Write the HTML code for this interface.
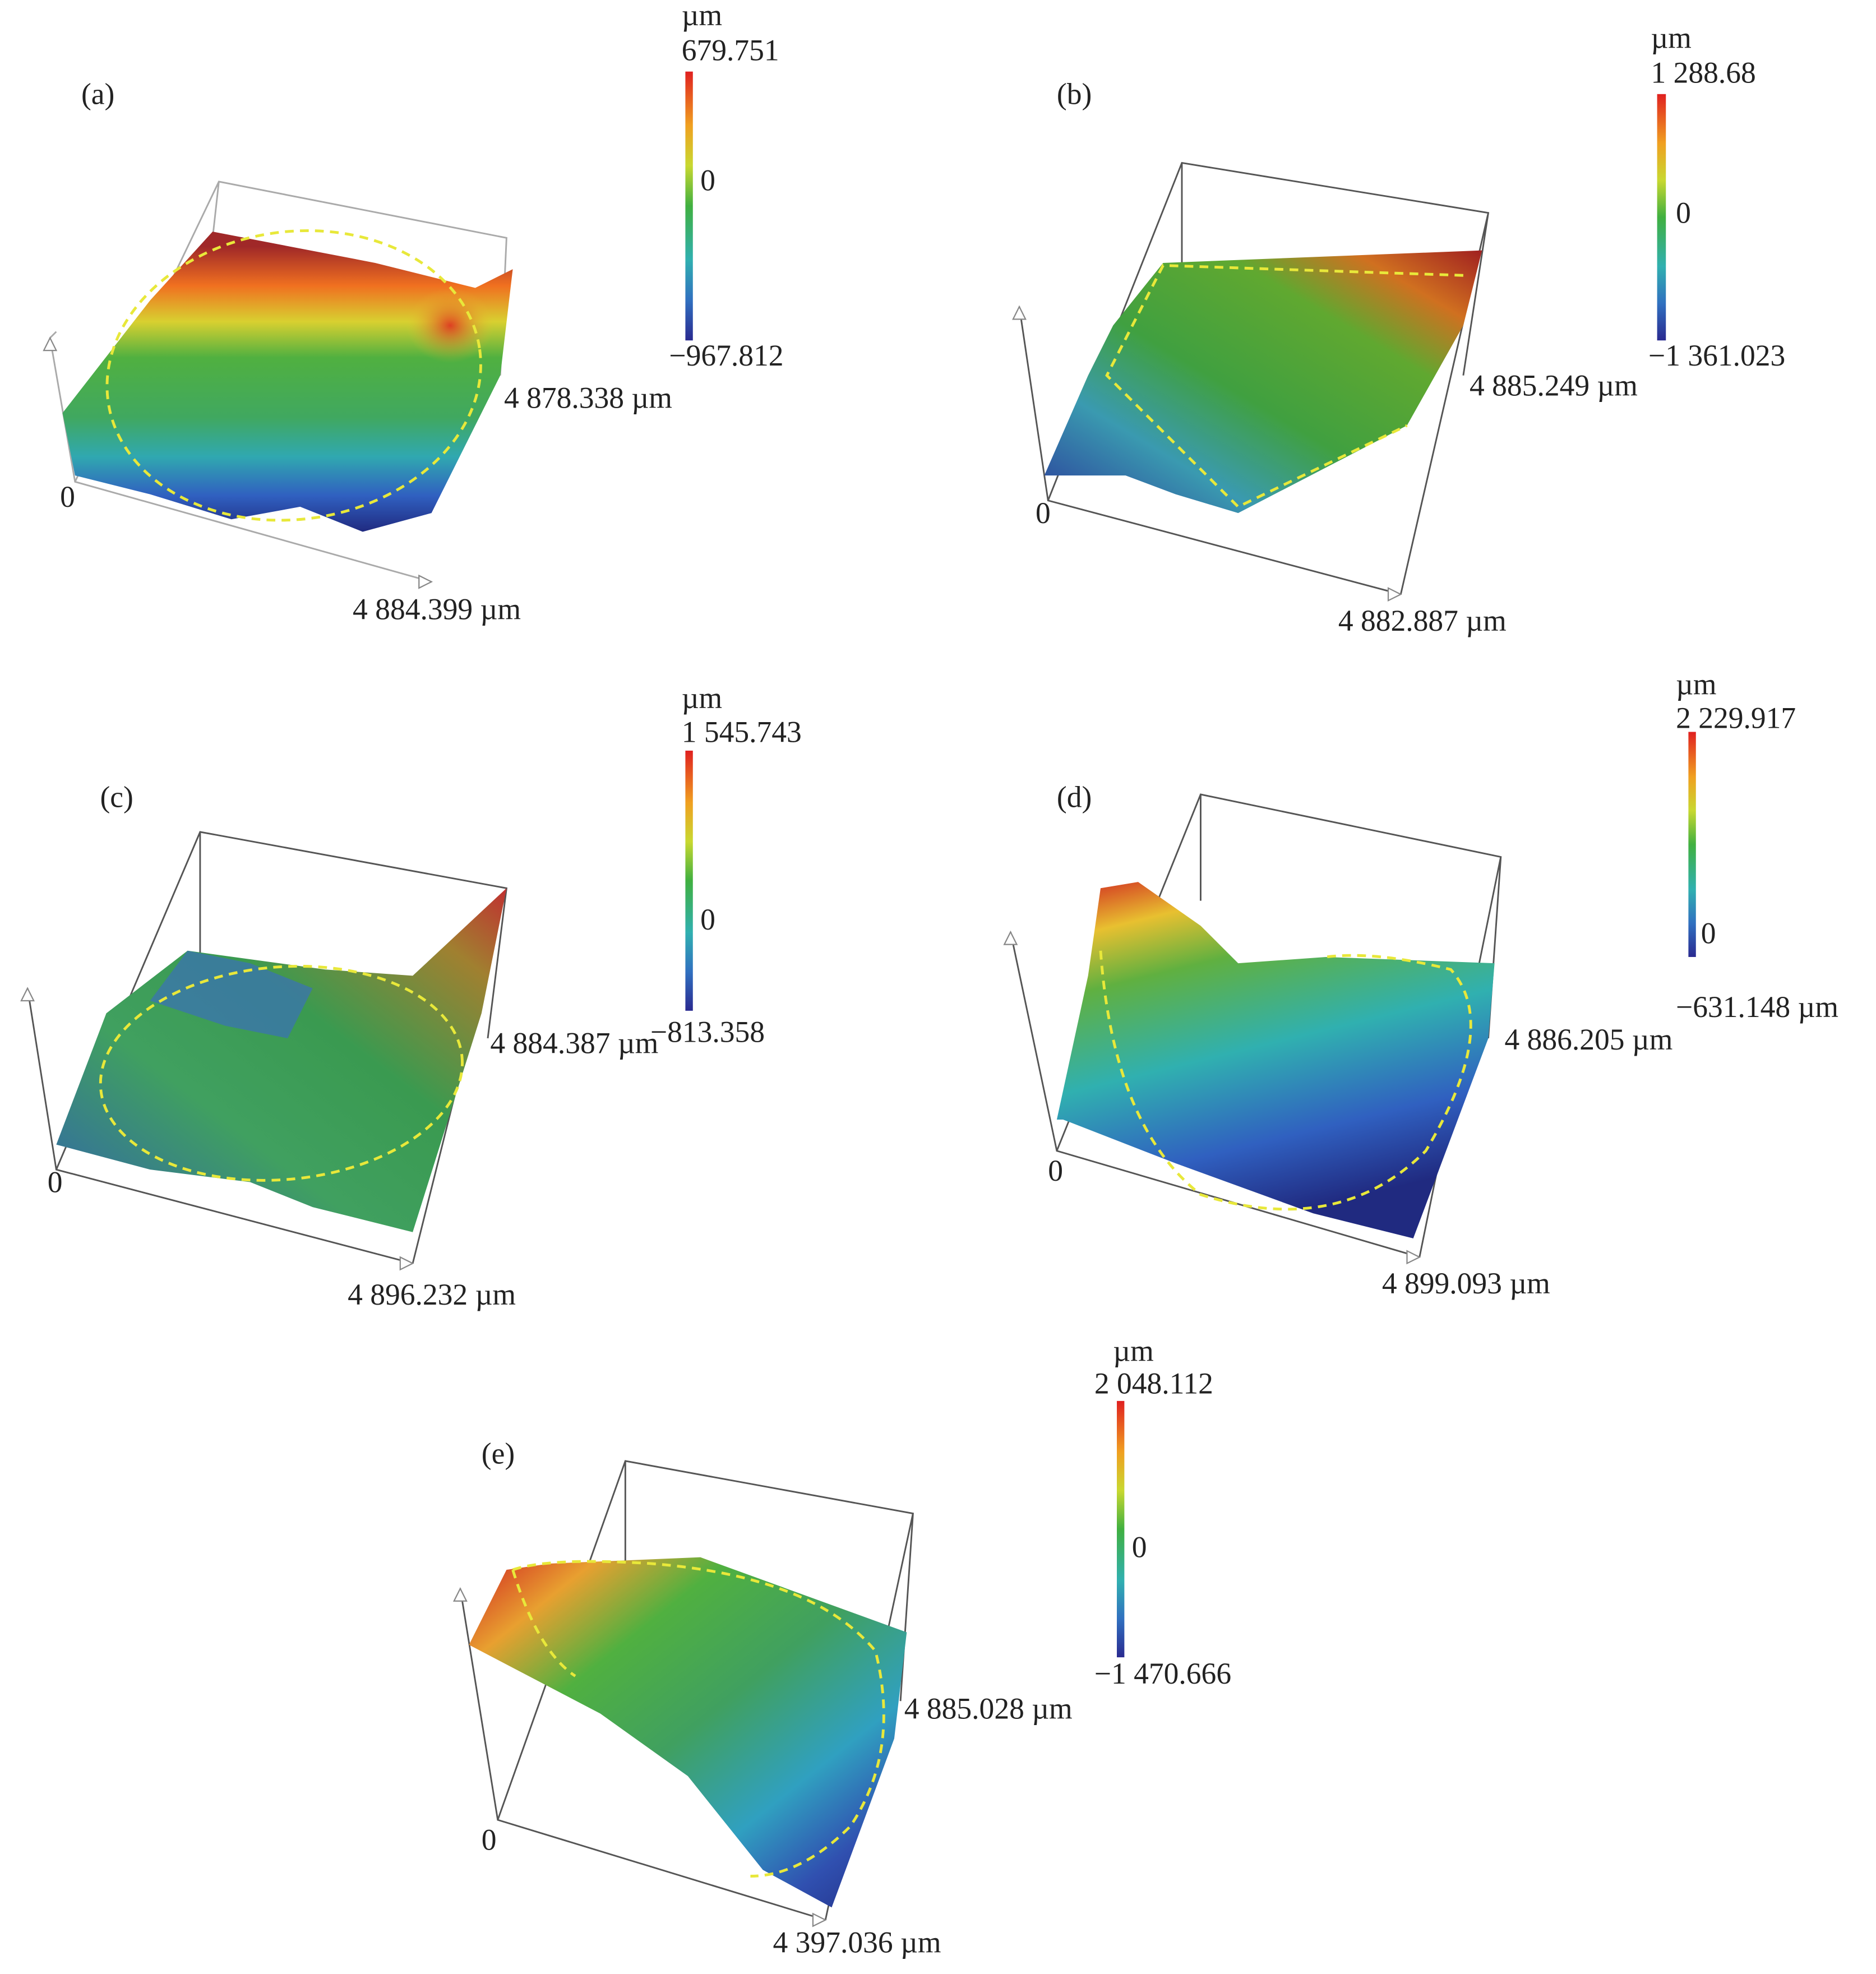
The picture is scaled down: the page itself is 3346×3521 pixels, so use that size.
<!DOCTYPE html>
<html><head><meta charset="utf-8"><style>
html,body{margin:0;padding:0;background:#fff}
svg{display:block}
text{font-family:"Liberation Serif",serif;font-size:24px;fill:#222}
.bx{stroke:#555;stroke-width:1.3;fill:none}
.dash{stroke:#e8e83a;stroke-width:2.2;fill:none;stroke-dasharray:7 5}
</style></head><body>
<svg width="3346" height="3521" viewBox="0 0 1500 1578" xmlns="http://www.w3.org/2000/svg">
<defs>
<linearGradient id="cb" x1="0" y1="0" x2="0" y2="1">
<stop offset="0" stop-color="#e02020"/><stop offset="0.2" stop-color="#f0a020"/><stop offset="0.35" stop-color="#c8d830"/><stop offset="0.5" stop-color="#40b040"/><stop offset="0.7" stop-color="#30b0b0"/><stop offset="0.85" stop-color="#3070c0"/><stop offset="1" stop-color="#2a2a90"/></linearGradient>
<linearGradient id="ga" x1="0" y1="0" x2="0" y2="1">
<stop offset="0.05" stop-color="#a02828"/><stop offset="0.18" stop-color="#f07020"/><stop offset="0.3" stop-color="#d8d030"/><stop offset="0.42" stop-color="#50b040"/><stop offset="0.62" stop-color="#40a860"/><stop offset="0.75" stop-color="#30a8b0"/><stop offset="0.88" stop-color="#3060c0"/><stop offset="1" stop-color="#202a80"/></linearGradient>
<linearGradient id="gb" x1="0" y1="1" x2="1" y2="0">
<stop offset="0" stop-color="#2a3a9a"/><stop offset="0.25" stop-color="#3a9ab0"/><stop offset="0.45" stop-color="#40a040"/><stop offset="0.7" stop-color="#60a830"/><stop offset="0.85" stop-color="#d07020"/><stop offset="1" stop-color="#a02020"/></linearGradient>
<linearGradient id="gc" x1="0" y1="1" x2="1" y2="0">
<stop offset="0" stop-color="#3060b0"/><stop offset="0.35" stop-color="#40a060"/><stop offset="0.6" stop-color="#3a9a50"/><stop offset="0.85" stop-color="#a08030"/><stop offset="1" stop-color="#c03030"/></linearGradient>
<linearGradient id="gd" x1="0" y1="0" x2="0.3" y2="1">
<stop offset="0" stop-color="#d02020"/><stop offset="0.15" stop-color="#e8c030"/><stop offset="0.3" stop-color="#60b040"/><stop offset="0.55" stop-color="#30b0b0"/><stop offset="0.8" stop-color="#3060c0"/><stop offset="1" stop-color="#202a80"/></linearGradient>
<linearGradient id="ge" x1="0" y1="0" x2="1" y2="1">
<stop offset="0" stop-color="#d02020"/><stop offset="0.15" stop-color="#e8a030"/><stop offset="0.3" stop-color="#50b040"/><stop offset="0.5" stop-color="#40a060"/><stop offset="0.7" stop-color="#30a0c0"/><stop offset="0.85" stop-color="#3050b0"/><stop offset="1" stop-color="#202a80"/></linearGradient>
<radialGradient id="redR" cx="0.5" cy="0.5" r="0.5"><stop offset="0" stop-color="#e03020" stop-opacity="0.9"/><stop offset="1" stop-color="#e8c030" stop-opacity="0"/></radialGradient>
</defs>

<!-- (a) -->
<text x="65" y="83">(a)</text>
<g class="bx" style="stroke:#aaa"><path d="M40 270 L60 385 L345 465 M60 385 L175 145 L405 190 L400 300 M175 145 L170 190 M40 270 L45 265"/></g>
<polygon fill="url(#ga)" points="50,330 120,240 170,185 300,210 380,230 410,215 400,300 345,410 290,425 240,405 185,415 120,395 60,380"/>
<ellipse cx="360" cy="260" rx="35" ry="30" fill="url(#redR)"/>
<ellipse class="dash" cx="235" cy="300" rx="150" ry="115" transform="rotate(-8 235 300)"/>
<path d="M40 270 l-5 10 l10 0 z M345 465 l-10 -5 l0 10z" fill="#fff" stroke="#888"/>
<rect x="548" y="57" width="6" height="215" fill="url(#cb)"/>
<text x="545" y="20">µm</text><text x="545" y="48">679.751</text><text x="560" y="152">0</text><text x="535" y="292">−967.812</text>
<text x="403" y="326">4 878.338 µm</text><text x="282" y="495">4 884.399 µm</text><text x="48" y="405">0</text>

<!-- (b) -->
<text x="845" y="83">(b)</text>
<g class="bx"><path d="M815 245 L838 400 L1120 475 M838 400 L945 130 L1190 170 L1170 300 M945 130 L945 210 M1190 170 L1120 475"/></g>
<polygon fill="url(#gb)" points="835,380 870,300 890,260 930,210 1185,200 1170,260 1125,340 990,410 940,395 900,380"/>
<path class="dash" d="M1170 220 L930 212 L885 300 L990 405 L1125 340"/>
<path d="M815 245 l-5 10 l10 0 z M1120 475 l-10 -5 l0 10z" fill="#fff" stroke="#888"/>
<rect x="1325" y="75" width="7" height="197" fill="url(#cb)"/>
<text x="1320" y="38">µm</text><text x="1320" y="66">1 288.68</text><text x="1340" y="178">0</text><text x="1318" y="292">−1 361.023</text>
<text x="1175" y="316">4 885.249 µm</text><text x="1070" y="504">4 882.887 µm</text><text x="828" y="418">0</text>

<!-- (c) -->
<text x="80" y="645">(c)</text>
<g class="bx"><path d="M22 790 L45 935 L330 1010 M45 935 L160 665 L405 710 L390 830 M160 665 L160 770 M405 710 L330 1010"/></g>
<polygon fill="url(#gc)" points="45,915 85,810 150,760 260,775 330,780 405,710 385,810 330,985 250,965 200,945 120,935"/>
<polygon fill="#3a70b8" opacity="0.7" points="150,760 200,770 250,790 230,830 180,820 120,800"/>
<ellipse class="dash" cx="225" cy="858" rx="145" ry="85" transform="rotate(-5 225 858)"/>
<path d="M22 790 l-5 10 l10 0 z M330 1010 l-10 -5 l0 10z" fill="#fff" stroke="#888"/>
<rect x="548" y="600" width="6" height="208" fill="url(#cb)"/>
<text x="545" y="566">µm</text><text x="545" y="593">1 545.743</text><text x="560" y="743">0</text><text x="520" y="833">−813.358</text>
<text x="392" y="842">4 884.387 µm</text><text x="278" y="1043">4 896.232 µm</text><text x="38" y="953">0</text>

<!-- (d) -->
<text x="845" y="645">(d)</text>
<g class="bx"><path d="M808 745 L845 920 L1135 1005 M845 920 L960 635 L1200 685 L1190 830 M960 635 L960 720 M1200 685 L1135 1005"/></g>
<polygon fill="url(#gd)" points="845,895 870,780 880,710 910,705 960,740 990,770 1060,765 1195,770 1190,830 1130,990 1050,970 940,930 850,895"/>
<path class="dash" d="M880 760 Q890 900 960 955 Q1070 990 1140 920 Q1200 820 1160 775 Q1100 760 1060 765"/>
<path d="M808 745 l-5 10 l10 0 z M1135 1005 l-10 -5 l0 10z" fill="#fff" stroke="#888"/>
<rect x="1350" y="585" width="6" height="180" fill="url(#cb)"/>
<text x="1340" y="555">µm</text><text x="1340" y="582">2 229.917</text><text x="1360" y="754">0</text><text x="1340" y="813">−631.148 µm</text>
<text x="1203" y="839">4 886.205 µm</text><text x="1105" y="1034">4 899.093 µm</text><text x="838" y="944">0</text>

<!-- (e) -->
<text x="385" y="1170">(e)</text>
<g class="bx"><path d="M368 1270 L398 1455 L660 1535 M398 1455 L500 1168 L730 1210 L720 1360 M500 1168 L500 1250 M730 1210 L660 1535"/></g>
<polygon fill="url(#ge)" points="375,1315 405,1255 440,1250 560,1245 725,1305 715,1390 665,1525 610,1495 550,1420 480,1370"/>
<path class="dash" d="M410 1255 Q440 1245 520 1250 Q650 1260 700 1320 Q720 1400 680 1460 Q640 1500 600 1500 M410 1255 Q430 1320 460 1340"/>
<path d="M368 1270 l-5 10 l10 0 z M660 1535 l-10 -5 l0 10z" fill="#fff" stroke="#888"/>
<rect x="893" y="1120" width="6" height="205" fill="url(#cb)"/>
<text x="890" y="1088">µm</text><text x="875" y="1114">2 048.112</text><text x="905" y="1245">0</text><text x="875" y="1346">−1 470.666</text>
<text x="723" y="1374">4 885.028 µm</text><text x="618" y="1561">4 397.036 µm</text><text x="385" y="1479">0</text>
</svg>
</body></html>
